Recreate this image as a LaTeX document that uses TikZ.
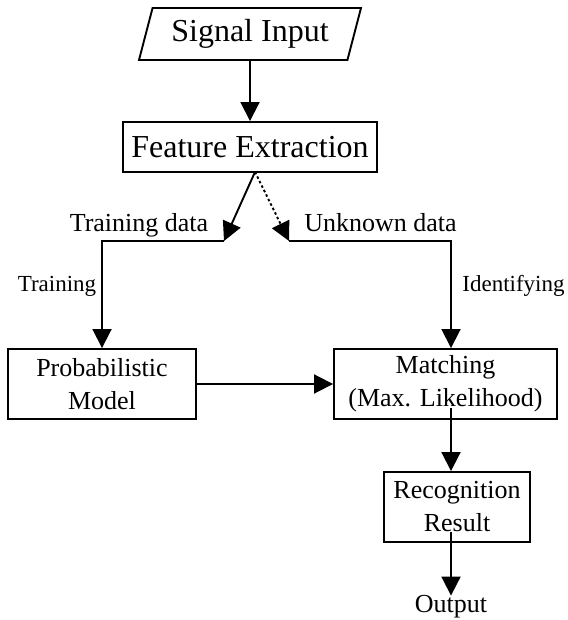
\documentclass[tikz,border=0pt]{standalone}
\usepackage{fontspec}
\setmainfont{Liberation Serif}
\usetikzlibrary{arrows.meta,shapes.geometric}
\begin{document}
\begin{tikzpicture}[x=10pt,y=10pt,
  caja/.style={draw, line width=1.9pt, inner sep=0pt, align=center, font=\fontsize{26}{33}\selectfont},
  flecha/.style={line width=1.9pt, -{Triangle[length=19pt,width=19pt]}},
  etiqueta/.style={anchor=base, inner sep=0pt, font=\fontsize{26}{33}\selectfont},
  etiquetita/.style={anchor=base, inner sep=0pt, font=\fontsize{23}{28}\selectfont}]
\useasboundingbox (0,0) rectangle (56.7,62);
% Entrada de la señal (paralelogramo)
\node[draw, line width=1.9pt, trapezium, trapezium left angle=65, trapezium right angle=115,
  trapezium stretches body, minimum width=222pt, minimum height=52pt, inner sep=0pt,
  font=\fontsize{32}{38}\selectfont] (entrada) at (25.0,58.6) {Signal Input};
% Cajas del proceso
\node[caja, minimum width=254pt, minimum height=50pt, font=\fontsize{32}{38}\selectfont] (extraccion) at (25.0,47.3) {Feature Extraction};
\node[caja, minimum width=188pt, minimum height=70pt] (modelo) at (10.2,23.6) {Probabilistic\\Model};
\node[caja, minimum width=223pt, minimum height=70pt] (comparacion) at (44.55,23.6) {Matching\\(Max. Likelihood)};
\node[caja, minimum width=146pt, minimum height=70pt] (reconocimiento) at (45.7,11.3) {Recognition\\Result};
\node[etiqueta] (salida) at (45.1,0.7) {Output};
% Puntos de bifurcación y esquinas
\coordinate (bif) at (25.5,44.8); % bajo la extracción
\coordinate (finEnt) at (22.4,37.9);
\coordinate (finDesc) at (28.9,37.9);
\coordinate (bajada) at (45.1,37.9);
\coordinate (m1) at (45.1,21.2); % sale de dentro de Matching
\coordinate (r1) at (45.1,8.8); % sale de dentro de Recognition
% Flechas
\draw[flecha] (entrada.south) -- (extraccion.north);
\draw[flecha] (bif) -- (finEnt); % datos de entrenamiento
\draw[flecha, dash pattern=on 2.5pt off 2.5pt] (bif) -- (finDesc); % datos desconocidos
\draw[flecha] (finEnt) -| (modelo.north);
\draw[flecha] (finDesc) -- (bajada) -- (bajada |- comparacion.north);
\draw[flecha] (modelo.east) -- (comparacion.west);
\draw[flecha] (m1) -- (m1 |- reconocimiento.north);
\draw[flecha] (r1) -- (salida.north);
% Etiquetas de las ramas
\node[etiqueta] (datosEnt) at (13.9,38.8) {Training data};
\node[etiqueta] (datosDesc) at (38.05,38.8) {Unknown data};
\node[etiquetita] (entrenamiento) at (5.7,32.8) {Training};
\node[etiquetita] (identificacion) at (51.35,32.8) {Identifying};
\end{tikzpicture}
\end{document}
